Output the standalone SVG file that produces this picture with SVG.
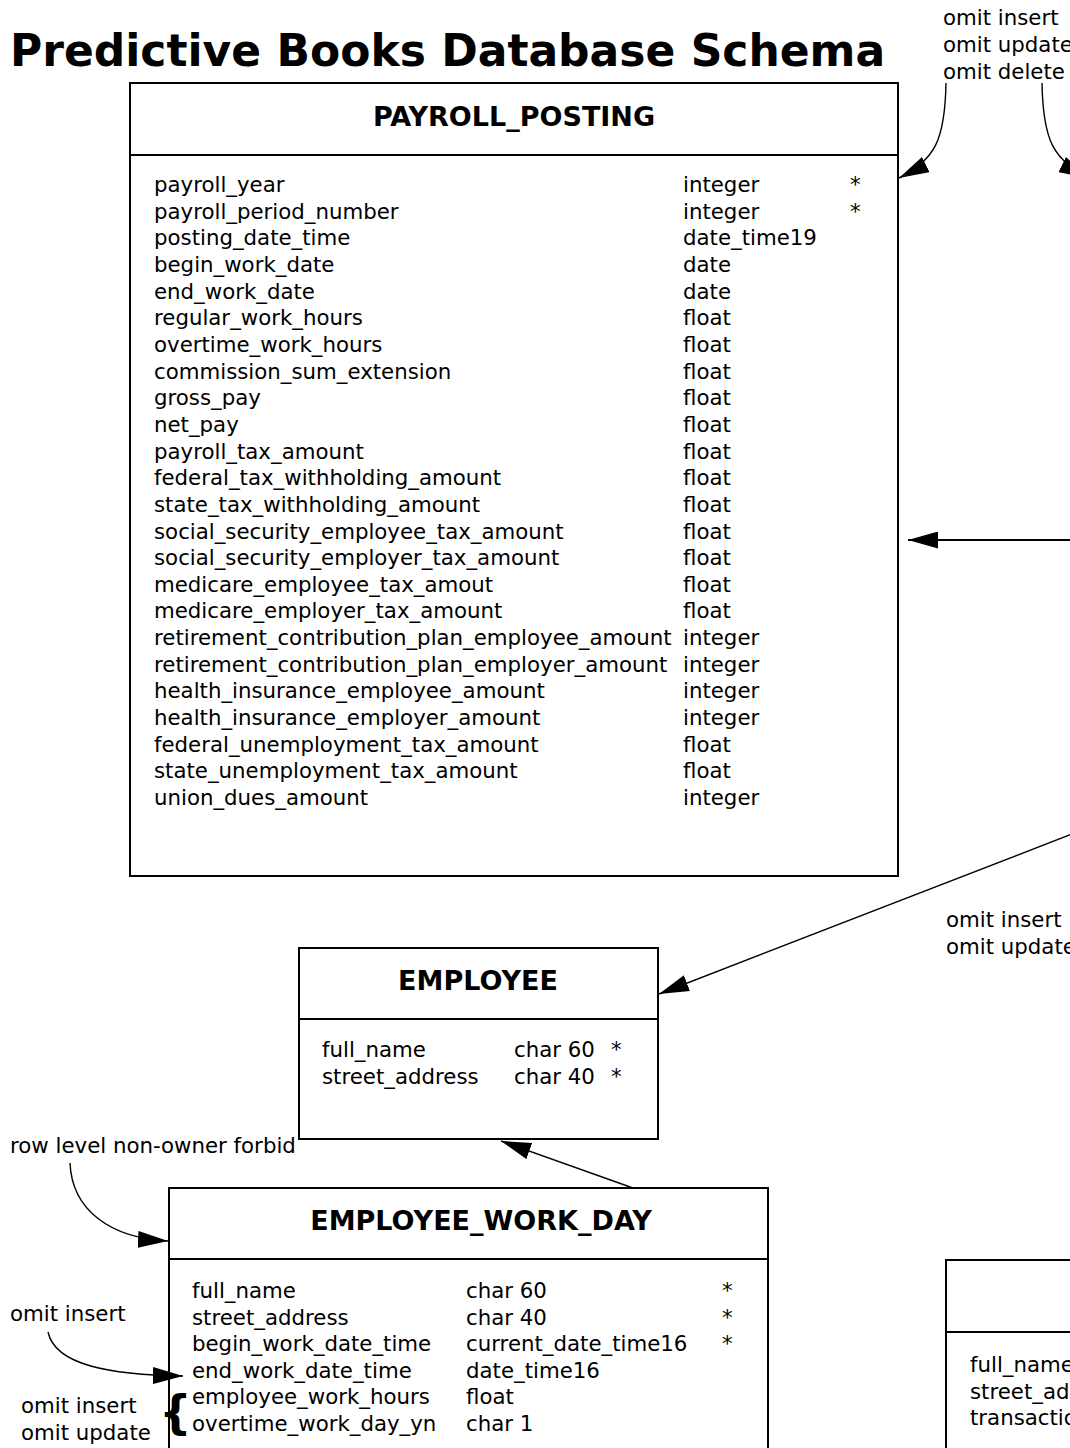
<svg xmlns="http://www.w3.org/2000/svg" width="1070" height="1448" viewBox="0 0 1070 1448">
<style>
.box{fill:#fff;stroke:#000;stroke-width:2}
.div{stroke:#000;stroke-width:2}
.t{font-family:"DejaVu Sans",sans-serif;font-size:21.3px;fill:#000}
.h{font-family:"DejaVu Sans",sans-serif;font-size:27px;font-weight:bold;fill:#000;text-anchor:middle}
.title{font-family:"DejaVu Sans",sans-serif;font-size:44px;font-weight:bold;fill:#000}
.c{fill:none;stroke:#000;stroke-width:1.4}
.l{fill:none;stroke:#000;stroke-width:2}
</style>
<defs>
<marker id="ah" markerUnits="userSpaceOnUse" viewBox="0 0 30 17" refX="30" refY="8.5" markerWidth="30" markerHeight="17" orient="auto">
<path d="M0,0 L30,8.5 L0,17 z" fill="#000"/>
</marker>
</defs>
<rect width="1070" height="1448" fill="#fff"/>
<text class="title" x="10" y="66">Predictive Books Database Schema</text>

<g id="payroll_posting">
<rect class="box" x="130" y="83" width="768" height="793"/>
<line class="div" x1="130" y1="155" x2="898" y2="155"/>
<text class="h" x="514" y="126">PAYROLL_POSTING</text>
<g class="t">
<text x="154" y="192">payroll_year</text><text x="683" y="192">integer</text><text x="850" y="192">*</text>
<text x="154" y="218.7">payroll_period_number</text><text x="683" y="218.7">integer</text><text x="850" y="218.7">*</text>
<text x="154" y="245.3">posting_date_time</text><text x="683" y="245.3">date_time19</text>
<text x="154" y="272">begin_work_date</text><text x="683" y="272">date</text>
<text x="154" y="298.6">end_work_date</text><text x="683" y="298.6">date</text>
<text x="154" y="325.3">regular_work_hours</text><text x="683" y="325.3">float</text>
<text x="154" y="351.9">overtime_work_hours</text><text x="683" y="351.9">float</text>
<text x="154" y="378.6">commission_sum_extension</text><text x="683" y="378.6">float</text>
<text x="154" y="405.2">gross_pay</text><text x="683" y="405.2">float</text>
<text x="154" y="431.9">net_pay</text><text x="683" y="431.9">float</text>
<text x="154" y="458.5">payroll_tax_amount</text><text x="683" y="458.5">float</text>
<text x="154" y="485.2">federal_tax_withholding_amount</text><text x="683" y="485.2">float</text>
<text x="154" y="511.8">state_tax_withholding_amount</text><text x="683" y="511.8">float</text>
<text x="154" y="538.5">social_security_employee_tax_amount</text><text x="683" y="538.5">float</text>
<text x="154" y="565.1">social_security_employer_tax_amount</text><text x="683" y="565.1">float</text>
<text x="154" y="591.8">medicare_employee_tax_amout</text><text x="683" y="591.8">float</text>
<text x="154" y="618.4">medicare_employer_tax_amount</text><text x="683" y="618.4">float</text>
<text x="154" y="645.1">retirement_contribution_plan_employee_amount</text><text x="683" y="645.1">integer</text>
<text x="154" y="671.7">retirement_contribution_plan_employer_amount</text><text x="683" y="671.7">integer</text>
<text x="154" y="698.4">health_insurance_employee_amount</text><text x="683" y="698.4">integer</text>
<text x="154" y="725">health_insurance_employer_amount</text><text x="683" y="725">integer</text>
<text x="154" y="751.7">federal_unemployment_tax_amount</text><text x="683" y="751.7">float</text>
<text x="154" y="778.3">state_unemployment_tax_amount</text><text x="683" y="778.3">float</text>
<text x="154" y="805">union_dues_amount</text><text x="683" y="805">integer</text>
</g>
</g>

<g id="employee">
<rect class="box" x="299" y="948" width="359" height="191"/>
<line class="div" x1="299" y1="1019" x2="658" y2="1019"/>
<text class="h" x="478" y="990">EMPLOYEE</text>
<g class="t">
<text x="322" y="1057">full_name</text><text x="514" y="1057">char 60</text><text x="611" y="1057">*</text>
<text x="322" y="1084">street_address</text><text x="514" y="1084">char 40</text><text x="611" y="1084">*</text>
</g>
</g>

<g id="employee_work_day">
<rect class="box" x="169" y="1188" width="599" height="300"/>
<line class="div" x1="169" y1="1259" x2="768" y2="1259"/>
<text class="h" x="481" y="1230">EMPLOYEE_WORK_DAY</text>
<g class="t">
<text x="192" y="1298">full_name</text><text x="466" y="1298">char 60</text><text x="722" y="1298">*</text>
<text x="192" y="1324.5">street_address</text><text x="466" y="1324.5">char 40</text><text x="722" y="1324.5">*</text>
<text x="192" y="1351">begin_work_date_time</text><text x="466" y="1351">current_date_time16</text><text x="722" y="1351">*</text>
<text x="192" y="1377.5">end_work_date_time</text><text x="466" y="1377.5">date_time16</text>
<text x="192" y="1404">employee_work_hours</text><text x="466" y="1404">float</text>
<text x="192" y="1430.5">overtime_work_day_yn</text><text x="466" y="1430.5">char 1</text>
</g>
</g>

<g id="right_table">
<rect class="box" x="946" y="1260" width="300" height="300"/>
<line class="div" x1="946" y1="1332" x2="1246" y2="1332"/>
<g class="t">
<text x="970" y="1372">full_name</text>
<text x="970" y="1398.5">street_address</text>
<text x="970" y="1425">transaction</text>
</g>
</g>

<g id="annotations" class="t">
<text x="943" y="25">omit insert</text>
<text x="943" y="52">omit update</text>
<text x="943" y="79">omit delete</text>
<text x="946" y="927">omit insert</text>
<text x="946" y="954">omit update</text>
<text x="10" y="1153">row level non-owner forbid</text>
<text x="10" y="1321">omit insert</text>
<text x="21" y="1413">omit insert</text>
<text x="21" y="1440">omit update</text>
<text x="159" y="1428" style="font-size:46px;font-weight:bold">{</text>
</g>

<g id="connectors">
<path class="c" d="M946,83 C945,140 935,160 899,178" marker-end="url(#ah)"/>
<path class="c" d="M1042,83 C1043,140 1053,160 1089,178" marker-end="url(#ah)"/>
<path class="l" d="M1075,540 L908,540" marker-end="url(#ah)"/>
<path class="c" d="M1080,831 L659,994" marker-end="url(#ah)"/>
<path class="c" d="M633,1188 L501,1141" marker-end="url(#ah)"/>
<path class="c" d="M70,1163 C72,1210 110,1238 168,1241" marker-end="url(#ah)"/>
<path class="c" d="M48,1332 C55,1365 110,1375 183,1376" marker-end="url(#ah)"/>
</g>
</svg>
